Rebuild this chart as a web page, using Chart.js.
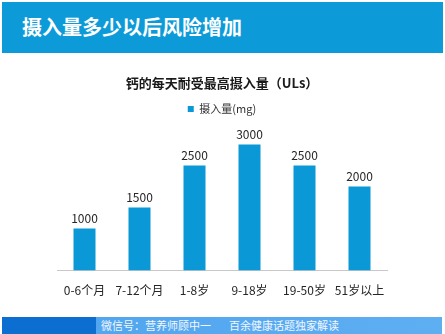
<!DOCTYPE html>
<html><head><meta charset="utf-8">
<script src="https://cdn.jsdelivr.net/npm/chart.js@4"></script>
<style>
html,body{margin:0;padding:0;background:#fff;}
#wrap{position:relative;width:445px;height:334px;overflow:hidden;font-family:"Noto Sans CJK SC","Noto Sans",sans-serif;}
#banner{position:absolute;left:2px;top:2px;width:441px;height:51px;background:#0c9bd8;}
#banner span{position:absolute;left:20px;top:13px;font-size:20px;line-height:24px;font-weight:bold;color:#fff;}
#footer{position:absolute;left:2px;top:317px;width:440px;height:17px;background:linear-gradient(90deg,#4ea4ee,#5eaef2);}
#footer .dark{position:absolute;left:0;top:0;width:94px;height:17px;background:#0d6ed2;}
#footer .t{position:absolute;top:0;font-size:11px;line-height:17px;color:#f2f6ff;white-space:nowrap;}
#c{position:absolute;left:0;top:0;}
</style></head>
<body><div id="wrap">
<div id="banner"><span>摄入量多少以后风险增加</span></div>
<canvas id="c" width="445" height="334"></canvas>
<div id="footer"><div class="dark"></div><span class="t" style="left:99px">微信号：营养师顾中一</span><span class="t" style="left:227px">百余健康话题独家解读</span></div>
</div>
<script>
const categories = ["0-6个月","7-12个月","1-8岁","9-18岁","19-50岁","51岁以上"];
const intake = [1000,1500,2500,3000,2500,2000];
const seriesName = "摄入量(mg)";
const chartTitle = "钙的每天耐受最高摄入量（ULs）";

const FONT = '"Noto Sans CJK SC","Noto Sans",sans-serif';
const valueLabels = {
  id:'valueLabels',
  afterDatasetsDraw(chart){
    const ctx = chart.ctx;
    const meta = chart.getDatasetMeta(0);
    ctx.save();
    ctx.font = '12px ' + FONT;
    ctx.fillStyle = '#262626';
    ctx.textAlign = 'center';
    ctx.textBaseline = 'bottom';
    meta.data.forEach((bar,i)=>{
      ctx.fillText(String(chart.data.datasets[0].data[i]), bar.x, bar.y - 4);
    });
    ctx.restore();
  }
};
new Chart(document.getElementById('c'),{
  type:'bar',
  data:{labels:categories,datasets:[{label:seriesName,data:intake,backgroundColor:'#0a98d6',borderWidth:0,categoryPercentage:1,barPercentage:0.4}]},
  options:{
    responsive:false,animation:false,
    layout:{padding:{left:57,right:58,top:75,bottom:31}},
    plugins:{
      title:{display:true,text:chartTitle,color:'#1a1a1a',font:{family:FONT,size:13,weight:'bold'},padding:{top:0,bottom:9}},
      legend:{display:true,labels:{boxWidth:6,boxHeight:6,padding:4,color:'#333',font:{family:FONT,size:11}}},
      tooltip:{enabled:false}
    },
    scales:{
      x:{grid:{display:false},border:{display:true,color:'#c8c8c8',width:1},ticks:{color:'#262626',padding:5,maxRotation:0,minRotation:0,autoSkip:false,font:{family:FONT,size:12}}},
      y:{display:false,min:0,max:3470}
    }
  },
  plugins:[valueLabels]
});
</script>
</body></html>
